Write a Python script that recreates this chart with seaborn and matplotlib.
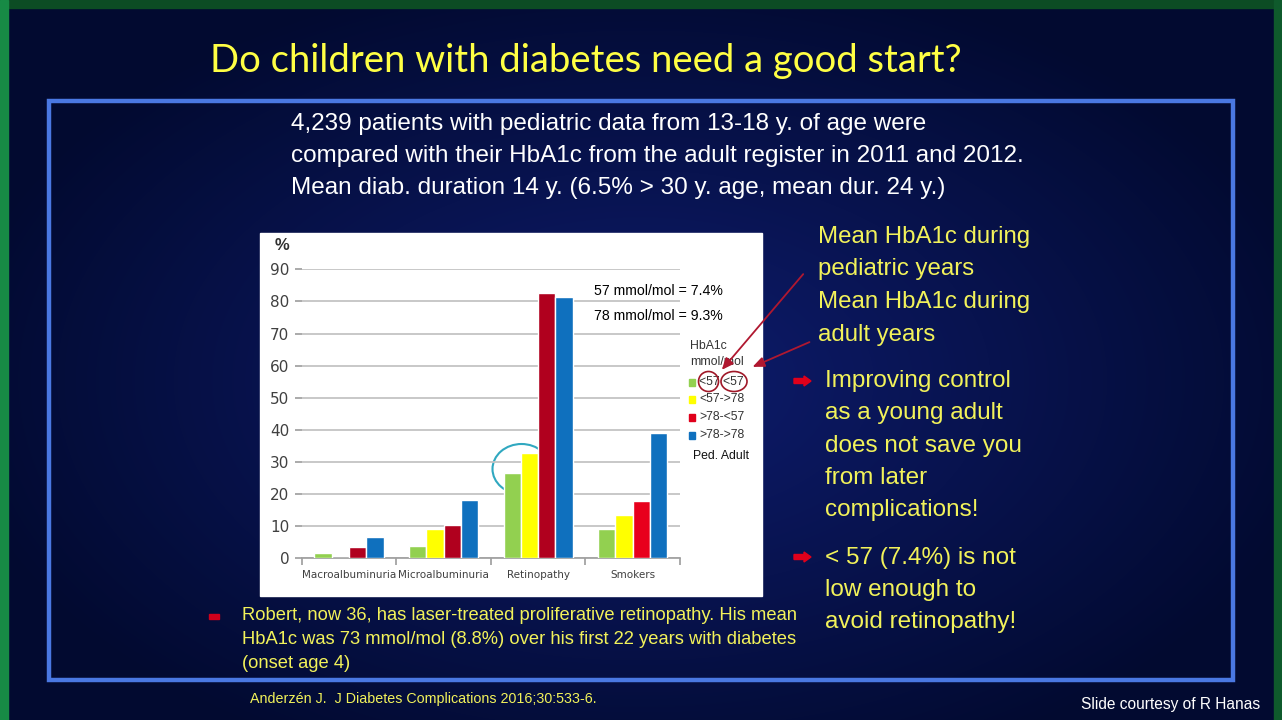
import numpy as np
import pandas as pd
import matplotlib
matplotlib.use("Agg")
import matplotlib.pyplot as plt
from matplotlib.patches import Rectangle, Ellipse, FancyArrowPatch, Polygon
import seaborn as sns

# ---------------- data ----------------
categories = ["Macroalbuminuria", "Microalbuminuria", "Retinopathy", "Smokers"]
groups = ["<57-<57", "<57->78", ">78-<57", ">78->78"]
legend_labels = ["<57 <57", "<57->78", ">78-<57", ">78->78"]
val_lt57_lt57 = [1.8, 3.9, 26.5, 9.1]
val_lt57_gt78 = [0.0, 9.1, 32.7, 13.5]
val_gt78_lt57 = [3.4, 10.4, 82.6, 17.7]
val_gt78_gt78 = [6.7, 18.1, 81.5, 39.1]
yticks = [0, 10, 20, 30, 40, 50, 60, 70, 80, 90]

bar_colors = ["#92D050", "#FFFF00", "#B0001E", "#0F70BE"]

rows = []
for g, vals in zip(groups, [val_lt57_lt57, val_lt57_gt78, val_gt78_lt57, val_gt78_gt78]):
    for c, v in zip(categories, vals):
        rows.append({"category": c, "group": g, "value": v})
df = pd.DataFrame(rows)

sns.set_theme(style="white")
plt.rcParams['font.family'] = ['Liberation Sans', 'DejaVu Sans']

W, H = 1282, 720
fig = plt.figure(figsize=(W / 100, H / 100), dpi=100)

# ---------------- background ----------------
bg = fig.add_axes([0, 0, 1, 1])
bg.set_xlim(0, W)
bg.set_ylim(H, 0)
bg.axis("off")
yy, xx = np.mgrid[0:H, 0:W]
d = np.sqrt(((xx - 640) / 700.0) ** 2 + ((yy - 380) / 420.0) ** 2)
d = np.clip(d, 0, 1)
c_center = np.array([14, 28, 110]) / 255.0
c_edge = np.array([2, 10, 48]) / 255.0
img = c_center[None, None, :] * (1 - d[..., None]) + c_edge[None, None, :] * d[..., None]
bg.imshow(img, extent=[0, W, H, 0], aspect="auto", zorder=0)
# green outer border
green = "#0C4C24"
bg.add_patch(Rectangle((0, 0), W, 8, color=green, zorder=1))
bg.add_patch(Rectangle((0, 0), 8, H, color="#178A45", zorder=1))
bg.add_patch(Rectangle((1274, 0), 8, H, color="#0F5A2C", zorder=1))
# blue frame
bg.add_patch(Rectangle((48.5, 100.5), 1184, 579, fill=False, ec="#4A78E2", lw=3.2, zorder=2))
# white chart image
bg.add_patch(Rectangle((260, 233), 502, 363, color="white", zorder=2))

# title
bg.text(586, 61, "Do children with diabetes need a good start?", color="#FFFF44",
        fontsize=27.5, ha="center", va="center", family=["Lato", "DejaVu Sans"], zorder=3)

# intro text
intro = ["4,239 patients with pediatric data from 13-18 y. of age were",
         "compared with their HbA1c from the adult register in 2011 and 2012.",
         "Mean diab. duration 14 y. (6.5% > 30 y. age, mean dur. 24 y.)"]
for i, t in enumerate(intro):
    bg.text(291, 124 + 32 * i, t, color="white", fontsize=17.5, ha="left", va="center", zorder=3)

ylw = "#F2F25A"
right1 = ["Mean HbA1c during", "pediatric years", "Mean HbA1c during", "adult years"]
for i, t in enumerate(right1):
    bg.text(818, 237 + 32.5 * i, t, color=ylw, fontsize=17.3, ha="left", va="center", zorder=3)
b1 = ["Improving control", "as a young adult", "does not save you", "from later", "complications!"]
for i, t in enumerate(b1):
    bg.text(825, 381 + 32.3 * i, t, color=ylw, fontsize=17.5, ha="left", va="center", zorder=3)
b2 = ["< 57 (7.4%) is not", "low enough to", "avoid retinopathy!"]
for i, t in enumerate(b2):
    bg.text(825, 558 + 32 * i, t, color=ylw, fontsize=17.5, ha="left", va="center", zorder=3)


def arrow_bullet(x0, yc):
    pts = [(x0, yc - 2.5), (x0 + 10, yc - 2.5), (x0 + 10, yc - 5), (x0 + 17, yc),
           (x0 + 10, yc + 5), (x0 + 10, yc + 2.5), (x0, yc + 2.5)]
    bg.add_patch(Polygon(pts, closed=True, color="#E0001B", zorder=3))


arrow_bullet(794, 381)
arrow_bullet(794, 557)

bottom = ["Robert, now 36, has laser-treated proliferative retinopathy. His mean",
          "HbA1c was 73 mmol/mol (8.8%) over his first 22 years with diabetes",
          "(onset age 4)"]
for i, t in enumerate(bottom):
    bg.text(242, 616 + 24 * i, t, color=ylw, fontsize=13.2, ha="left", va="center", zorder=3)
bg.add_patch(Rectangle((209, 614), 10, 5, color="#D0001B", zorder=3))
bg.text(250, 699, "Anderzén J.  J Diabetes Complications 2016;30:533-6.", color=ylw,
        fontsize=10.3, ha="left", va="center", zorder=3)
bg.text(1260, 704, "Slide courtesy of R Hanas", color="white", fontsize=11.2,
        ha="right", va="center", zorder=3)

# ---------------- chart ----------------
ax_l, ax_r = 301.7, 680.0
ax_b, ax_t = 558.3, 269.3
ax = fig.add_axes([ax_l / W, 1 - ax_b / H, (ax_r - ax_l) / W, (ax_b - ax_t) / H])
ax.patch.set_alpha(0)
sns.barplot(data=df, x="category", y="value", hue="group", order=categories,
            hue_order=groups, palette=bar_colors, width=0.73, saturation=1,
            ax=ax, legend=False, zorder=3)
# smokers red bar is brighter in the reference
for p in ax.patches:
    fc = p.get_facecolor()
    if abs(fc[0] - 0xB0 / 255) < 0.01 and abs(fc[1]) < 0.01 and p.get_x() > 2.5:
        p.set_facecolor("#E8001C")
ax.set_ylim(0, 90)
ax.set_xlim(-0.5, 3.5)
ax.set_yticks(yticks)
ax.yaxis.grid(True, color="#C4C4C4", lw=1.3, zorder=0)
ax.set_axisbelow(True)
for s in ["top", "right", "left"]:
    ax.spines[s].set_visible(False)
ax.spines["bottom"].set_color("#A0A0A0")
ax.set_xlabel("")
ax.set_ylabel("")
ax.set_xticks([-0.5, 0.5, 1.5, 2.5, 3.5])
ax.set_xticklabels([])
ax.tick_params(axis="x", bottom=True, length=5, color="#A0A0A0", direction="out")
ax.tick_params(axis="y", left=True, length=5, color="#A0A0A0", labelsize=11,
               labelcolor="#404040", pad=4)
for lab in ax.get_yticklabels():
    lab.set_fontfamily(["DejaVu Sans"])
for i, c in enumerate(categories):
    ax.text(i, -5.2, c, ha="center", va="center", fontsize=7.5, color="#404040",
            family=["DejaVu Sans"])

bg.text(275, 245, "%", color="#303030", fontsize=12, fontweight="bold",
        ha="left", va="center", zorder=3)
bg.text(594, 291, "57 mmol/mol = 7.4%", color="black", fontsize=10.2, ha="left", va="center", zorder=4)
bg.text(594, 316, "78 mmol/mol = 9.3%", color="black", fontsize=10.2, ha="left", va="center", zorder=4)
bg.text(690, 346, "HbA1c", color="#333333", fontsize=8.8, ha="left", va="center", zorder=4)
bg.text(690, 362, "mmol/mol", color="#333333", fontsize=8.8, ha="left", va="center", zorder=4)
leg_y = [382, 399.5, 417, 435]
for lab, col, ly in zip(legend_labels, ["#92D050", "#FFFF00", "#E0001B", "#0F70BE"], leg_y):
    bg.add_patch(Rectangle((689, ly - 3.5), 6, 7, color=col, zorder=4))
    bg.text(699, ly, lab, color="#333333", fontsize=8.8, ha="left", va="center", zorder=4)
bg.text(693, 456, "Ped. Adult", color="#111111", fontsize=8.8, ha="left", va="center", zorder=4)

# red circles and arrows
bg.add_patch(Ellipse((708.5, 381.5), 20, 20, fill=False, ec="#A01828", lw=1.2, zorder=5))
bg.add_patch(Ellipse((734, 381.5), 26, 20, fill=False, ec="#A01828", lw=1.2, zorder=5))
bg.add_patch(FancyArrowPatch((805, 272), (720, 372), arrowstyle="-|>,head_width=3,head_length=7",
                             color="#B01830", lw=1.3, zorder=5))
bg.add_patch(FancyArrowPatch((812, 341), (750, 368), arrowstyle="-|>,head_width=3,head_length=7",
                             color="#B01830", lw=1.3, zorder=5))
# cyan ellipse on retinopathy
bg.add_patch(Ellipse((521.5, 469), 58, 50, fill=False, ec="#30A8C0", lw=1.5, zorder=5))

fig.savefig("out.png", dpi=100)
